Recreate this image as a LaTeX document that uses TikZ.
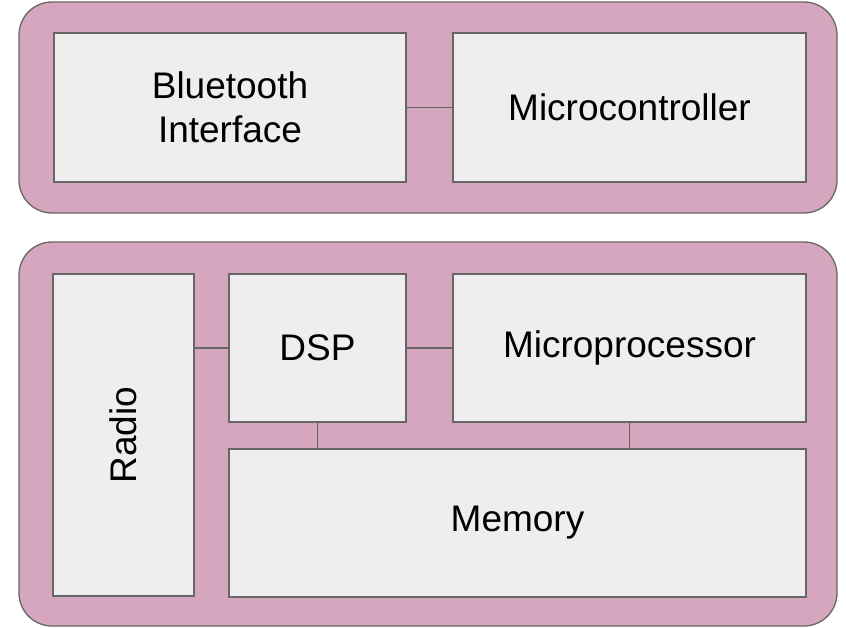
\documentclass[tikz,border=0pt]{standalone}
\usepackage{fontspec}
\setmainfont{Liberation Sans}
\usepackage{tikz}
\usetikzlibrary{positioning}
\definecolor{chipfill}{HTML}{D5A6BD}
\definecolor{blkfill}{HTML}{EEEEEE}
\definecolor{lineclr}{HTML}{666666}

\begin{document}
\begin{tikzpicture}[x=1pt, y=-1pt,
                line width=1.3pt,
                grp/.style n args={2}{draw=lineclr, fill=chipfill,
                    minimum width=#1pt,
                    minimum height=#2pt,
                    rounded corners=33pt,
                    outer sep=0pt,
                    rectangle},
                blk/.style n args={2}{draw=lineclr, fill=blkfill,
                    minimum width=#1pt,
                    minimum height=#2pt,
                    outer sep=0pt,
                    align=center,
                    font=\fontsize{37}{44}\selectfont,
                    rectangle},
                bus/.style={draw=lineclr}]
                \useasboundingbox (0,0) rectangle (846,627);
                \node[grp={818}{211}](phone) at (428, 107.5) {};
                \node[grp={818}{384}](base) at (428, 434) {};
                \node[blk={352}{149}](bt) at (230, 107.5) {Bluetooth\\Interface};
                \node[blk={353}{149}](mcu) at (629.5, 107.5) {Microcontroller};
                \node[blk={141}{322}](radio) at (123.5, 435) {\rotatebox{90}{Radio}};
                \node[blk={177}{148}](dsp) at (317.5, 348) {DSP};
                \node[blk={353}{148}](cpu) at (629.5, 348) {Microprocessor};
                \node[blk={577}{148}](mem) at (517.5, 523) {Memory};
                \draw[bus] (bt.east) -- (mcu.west);
                \draw[bus] (dsp.west -| radio.east) -- (dsp.west);
                \draw[bus] (dsp.east) -- (cpu.west);
                \draw[bus] (dsp.south) -- (dsp.south |- mem.north);
                \draw[bus] (cpu.south) -- (cpu.south |- mem.north);
            \end{tikzpicture}
\end{document}
